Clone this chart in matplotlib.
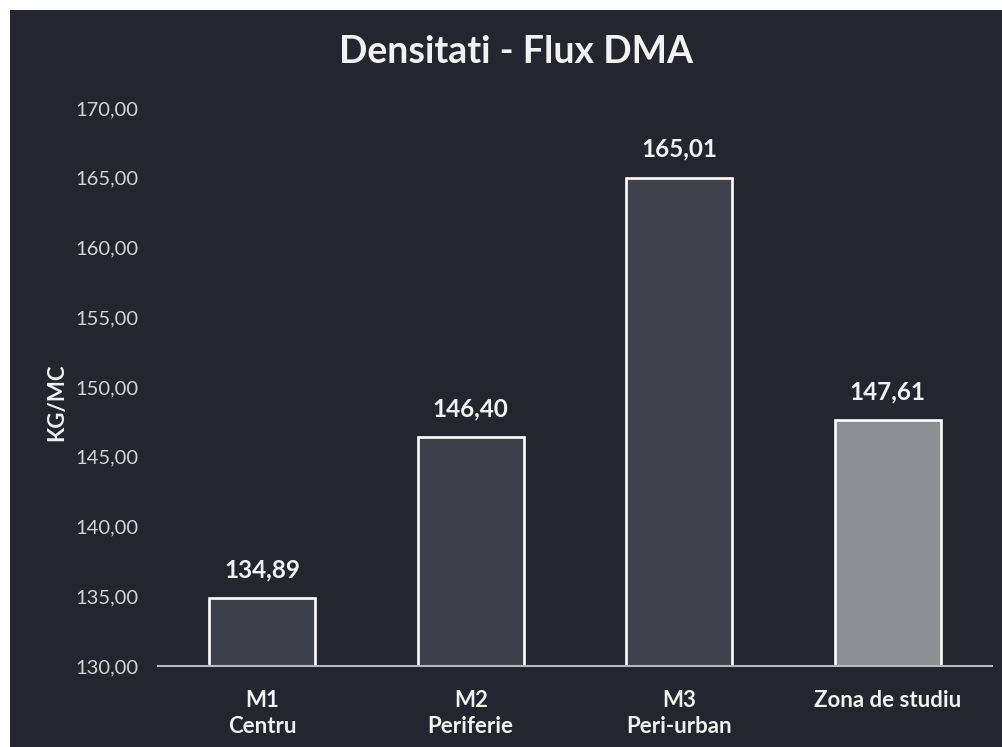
"""
Densitati - Flux DMA: bare cu valori pe fundal inchis.
Saida: out.png
"""

import matplotlib.pyplot as plt
from matplotlib.patches import Rectangle

categorii = ["M1\nCentru", "M2\nPeriferie", "M3\nPeri-urban", "Zona de studiu"]
valori = [134.89, 146.40, 165.01, 147.61]
y_ticks = [130, 135, 140, 145, 150, 155, 160, 165, 170]

FUNDAL = "#25252f"
CULORI = ["#3d3f4a", "#3d3f4a", "#3f424d", "#8d8f94"]
TEXT = "#f2f2f2"
FONT = "Lato"


def fmt(v):
    return f"{v:.2f}".replace(".", ",")


def main():
    fig = plt.figure(figsize=(10.03, 7.47), dpi=100)
    fig.patch.set_facecolor("white")
    # zona inchisa (scanarea are o margine alba sus si in stanga)
    fig.patches.append(Rectangle((10 / 1003, 0), 1 - 10 / 1003, 1 - 10 / 747,
                                 transform=fig.transFigure, facecolor=FUNDAL,
                                 edgecolor="none", zorder=-10))

    ax = fig.add_axes([0.1575, 0.1084, 0.8315, 0.747])
    ax.set_facecolor("none")
    x = range(len(valori))
    ax.bar(x, [v - 130 for v in valori], bottom=130, width=0.51,
           color=CULORI, edgecolor="white", linewidth=1.9, zorder=3)
    for xi, v in zip(x, valori):
        ax.text(xi, v + 1.2, fmt(v), ha="center", va="bottom",
                color=TEXT, fontsize=17.5, fontweight="bold", family=FONT)

    ax.set_xlim(-0.5, 3.5)
    ax.set_ylim(130, 170)
    ax.set_yticks(y_ticks)
    ax.set_yticklabels([fmt(t) for t in y_ticks], color="#d4d4d8",
                       fontsize=14.5, family=FONT)
    ax.set_xticks(list(x))
    ax.set_xticklabels(categorii, color=TEXT, fontsize=16,
                       fontweight="bold", family=FONT, linespacing=1.3)
    ax.tick_params(axis="both", length=0)
    ax.tick_params(axis="y", pad=14)
    ax.tick_params(axis="x", pad=17)
    for s in ["top", "right", "left"]:
        ax.spines[s].set_visible(False)
    ax.spines["bottom"].set_color("#b8b8bc")
    ax.spines["bottom"].set_linewidth(1.5)
    ax.spines["bottom"].set_zorder(4)

    fig.text(0.057, 0.462, "KG/MC", rotation=90, ha="center", va="center",
             color=TEXT, fontsize=16, fontweight="bold", family=FONT)
    fig.text(0.514, 0.93, "Densitati - Flux DMA", ha="center", va="center",
             color=TEXT, fontsize=27, fontweight="bold", family=FONT)

    fig.savefig("out.png", dpi=100, facecolor=fig.get_facecolor())
    plt.close(fig)


if __name__ == "__main__":
    main()
